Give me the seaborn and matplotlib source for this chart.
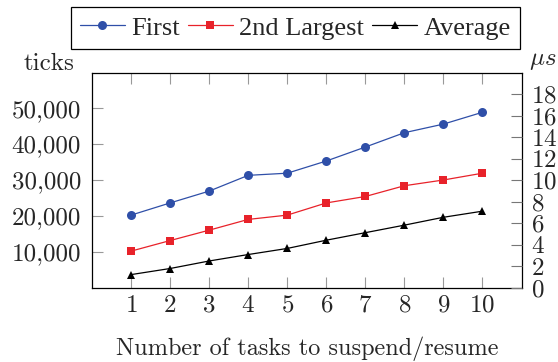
import numpy as np
import pandas as pd
import matplotlib
matplotlib.use("Agg")
import matplotlib.pyplot as plt
from matplotlib.ticker import FuncFormatter, MultipleLocator
import seaborn as sns

# data (ticks on the left axis)
tasks = list(range(1, 11))
first = [20200, 23600, 26900, 31300, 31900, 35300, 39200, 43200, 45600, 48900]
second_largest = [10150, 13100, 16000, 19000, 20200, 23600, 25400, 28400, 30000, 31900]
average = [3600, 5300, 7400, 9200, 10900, 13200, 15300, 17400, 19600, 21300]

left_ticks = [10000, 20000, 30000, 40000, 50000]
right_ticks = list(range(0, 20, 2))

sns.set_style("white")
plt.rcParams['font.family'] = ['cmr10', 'DejaVu Serif']
plt.rcParams['axes.formatter.use_mathtext'] = True
plt.rcParams['mathtext.fontset'] = 'cm'

fig = plt.figure(figsize=(5.58, 3.62), dpi=100)
ax = fig.add_axes([0.1649, 0.2058, 0.7697, 0.5939])

df = pd.DataFrame({'tasks': tasks, 'First': first,
                   '2nd Largest': second_largest, 'Average': average})

styles = [('First', '#2f4fa8', 'o', 6.5),
          ('2nd Largest', '#e8222a', 's', 6.0),
          ('Average', 'black', '^', 6.0)]
for name, col, mk, ms in styles:
    sns.lineplot(data=df, x='tasks', y=name, ax=ax, color=col, marker=mk,
                 markersize=ms, markeredgewidth=0, linewidth=0.9, label=name)

ax.set_xlim(0, 11)
ax.set_ylim(0, 60000)
ax.set_xticks(tasks)
ax.set_yticks(left_ticks)
ax.yaxis.set_major_formatter(FuncFormatter(lambda v, p: f"{v:,.0f}"))
ax.tick_params(axis='x', which='both', direction='in', top=True, bottom=True,
               length=8, width=0.8, color='#999999', labelsize=18, pad=5)
ax.tick_params(axis='y', which='both', direction='in', left=True, right=False,
               length=8, width=0.8, color='#999999', labelsize=18, pad=8)
for s in ax.spines.values():
    s.set_color('black')
    s.set_linewidth(0.9)

ax.set_xlabel('Number of tasks to suspend/resume', fontsize=17.5, labelpad=14)
ax.set_ylabel('ticks', fontsize=18, rotation=0, ha='center', va='center')
ax.yaxis.set_label_coords(-0.100, 1.04)

ax2 = ax.twinx()
ax2.set_ylim(0, 20)
ax2.set_yticks(right_ticks)
ax2.tick_params(axis='y', direction='in', length=8, width=0.8,
                color='#777777', labelsize=18, pad=7)
for s in ax2.spines.values():
    s.set_visible(False)
ax2.set_ylabel(r'$\mu s$', fontsize=18, rotation=0, ha='center', va='center')
ax2.yaxis.set_label_coords(1.05, 1.053)

handles, labels = ax.get_legend_handles_labels()
ax.get_legend().remove()
leg = fig.legend(handles, labels, loc='center', bbox_to_anchor=(0.5296, 0.9227),
                 ncol=3, frameon=True, fancybox=False, framealpha=1,
                 edgecolor='black', handlelength=1.7, handletextpad=0.25,
                 columnspacing=0.3, borderpad=0.35,
                 prop={'family': 'Liberation Serif', 'size': 19})
leg.get_frame().set_linewidth(0.9)

fig.savefig('out.png', dpi=100)
